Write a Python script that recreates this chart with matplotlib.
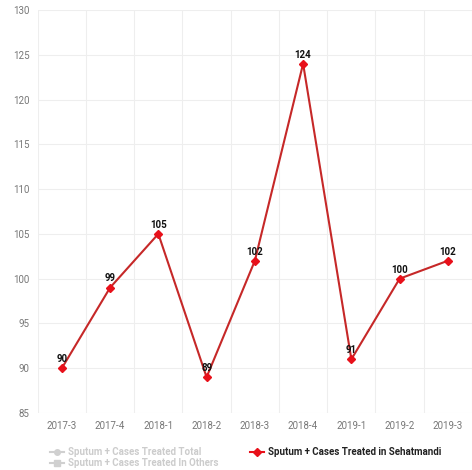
import matplotlib
matplotlib.use("Agg")
import matplotlib.pyplot as plt
from matplotlib.lines import Line2D

plt.rcParams['font.family'] = ['Roboto', 'DejaVu Sans']

categories = ["2017-3", "2017-4", "2018-1", "2018-2", "2018-3", "2018-4", "2019-1", "2019-2", "2019-3"]
sehatmandi = [90, 99, 105, 89, 102, 124, 91, 100, 102]
yticks = [85, 90, 95, 100, 105, 110, 115, 120, 125, 130]
legend_labels = ["Sputum + Cases Treated Total", "Sputum + Cases Treated In Others",
                 "Sputum + Cases Treated in Sehatmandi"]

W, H = 472, 470
fig = plt.figure(figsize=(W / 100, H / 100), dpi=100)
ax = fig.add_axes([37.7 / W, (H - 413) / H, 1 - 37.7 / W, (413 - 10) / H])

x = list(range(len(categories)))
ax.plot(x, sehatmandi, color="#c62828", lw=1.5, marker="D", ms=3.6,
        markerfacecolor="#e8101a", markeredgecolor="#e8101a", zorder=3, clip_on=False)
for xi, v in zip(x, sehatmandi):
    ax.annotate(str(v), (xi, v), xytext=(0, 3), textcoords="offset points",
                ha="center", va="bottom", fontsize=7, fontweight="bold", color="#111111")

ax.set_xlim(-0.5, 8.44)
ax.set_ylim(85, 130)
ax.set_yticks(yticks)
ax.set_xticks(x)
ax.set_xticklabels(categories)
ax.set_xticks([i + 0.5 for i in range(-1, 9)], minor=True)
ax.grid(False)
ax.grid(True, which="minor", axis="x", color="#eeeeee", lw=0.8)
ax.grid(True, which="major", axis="y", color="#eeeeee", lw=0.8)
ax.tick_params(axis="both", which="both", length=0, labelsize=7, colors="#777777")
ax.tick_params(axis="x", pad=6)
ax.tick_params(axis="y", pad=6)
for s in ax.spines.values():
    s.set_visible(False)

# legend
def legend_item(xp, yp, marker, color, text, tcolor, bold=False):
    fig.add_artist(Line2D([xp / W, (xp + 14) / W], [1 - yp / H, 1 - yp / H],
                          color=color, lw=1.5, marker=None, transform=fig.transFigure))
    fig.add_artist(Line2D([(xp + 7) / W], [1 - yp / H], color=color, marker=marker,
                          ms=4, lw=0, transform=fig.transFigure))
    fig.text((xp + 18) / W, 1 - yp / H, text, fontsize=7, color=tcolor,
             fontweight="bold" if bold else "normal", va="center", ha="left")

legend_item(50, 452, "o", "#d0d0d0", legend_labels[0], "#cccccc", bold=True)
legend_item(50, 463, "s", "#d0d0d0", legend_labels[1], "#cccccc", bold=True)
legend_item(250, 452, "D", "#e8101a", legend_labels[2], "#222222", bold=True)

fig.savefig("out.png", dpi=100)
